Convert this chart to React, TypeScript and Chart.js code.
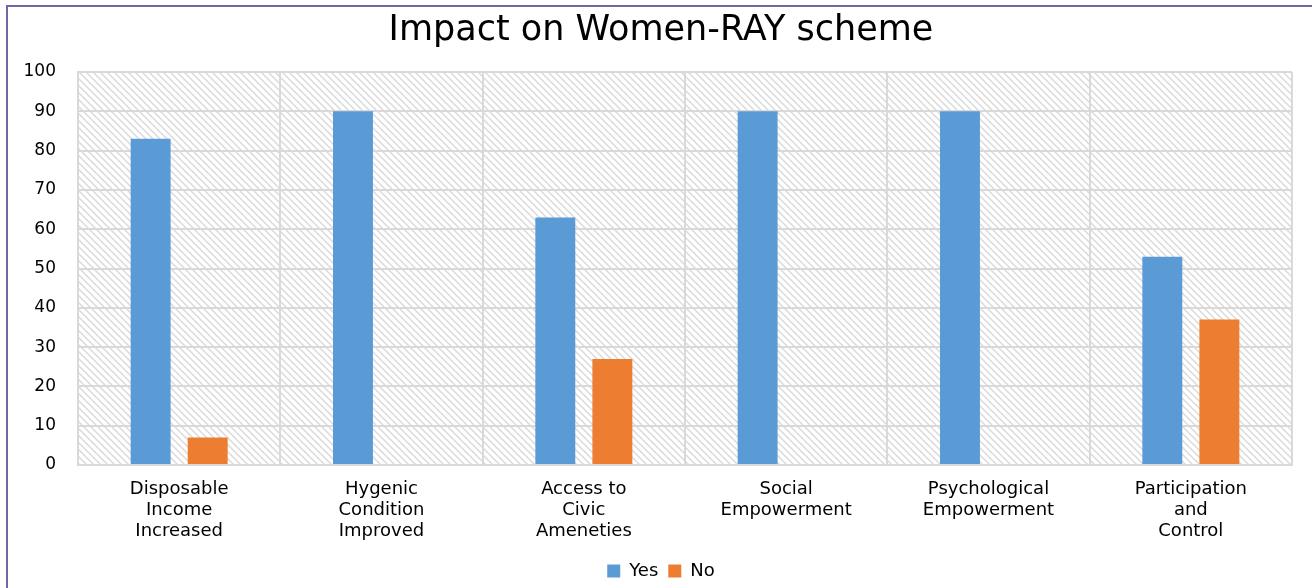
import React, { useEffect, useRef } from "react";
import { Chart, registerables } from "chart.js";

Chart.register(...registerables);

const categories: string[][] = [
  ["Disposable", "Income", "Increased"],
  ["Hygenic", "Condition", "Improved"],
  ["Access to", "Civic", "Ameneties"],
  ["Social", "Empowerment"],
  ["Psychological", "Empowerment"],
  ["Participation", "and", "Control"],
];
const yesValues = [83, 90, 63, 90, 90, 53];
const noValues = [7, 0, 27, 0, 0, 37];
const seriesNames = ["Yes", "No"];
const chartTitle = "Impact on Women-RAY scheme";

const FONT = "'DejaVu Sans', 'Open Sans', sans-serif";

function makeHatch(): CanvasPattern | string {
  const s = 7;
  const c = document.createElement("canvas");
  c.width = s;
  c.height = s;
  const g = c.getContext("2d");
  if (!g) return "#fff";
  g.fillStyle = "#ffffff";
  g.fillRect(0, 0, s, s);
  g.strokeStyle = "#dadada";
  g.lineWidth = 1.5;
  g.beginPath();
  g.moveTo(0, 0);
  g.lineTo(s, s);
  g.moveTo(-1, s - 1);
  g.lineTo(1, s + 1);
  g.moveTo(s - 1, -1);
  g.lineTo(s + 1, 1);
  g.stroke();
  const p = g.createPattern(c, "repeat");
  return p || "#fff";
}

export default function App() {
  const ref = useRef<HTMLCanvasElement | null>(null);
  useEffect(() => {
    if (!ref.current) return;
    const hatch = makeHatch();
    const hatchPlugin = {
      id: "hatchBg",
      beforeDraw(chart: any) {
        const { ctx, chartArea } = chart;
        ctx.save();
        ctx.fillStyle = hatch;
        ctx.fillRect(chartArea.left, chartArea.top, chartArea.right - chartArea.left, chartArea.bottom - chartArea.top);
        ctx.restore();
      },
    };
    const chart = new Chart(ref.current, {
      type: "bar",
      data: {
        labels: categories,
        datasets: [
          {
            label: seriesNames[0],
            data: yesValues,
            backgroundColor: "#5b9bd5",
            categoryPercentage: 0.564,
            barPercentage: 0.7,
          },
          {
            label: seriesNames[1],
            data: noValues,
            backgroundColor: "#ed7d31",
            categoryPercentage: 0.564,
            barPercentage: 0.7,
          },
        ],
      },
      options: {
        responsive: false,
        animation: false,
        layout: { padding: { left: 10, right: 0, top: 0, bottom: 0 } },
        plugins: {
          tooltip: { enabled: false },
          title: {
            display: true,
            text: chartTitle,
            color: "#000",
            font: { family: FONT, size: 35, weight: "normal", lineHeight: 1.2 },
            padding: { top: 10, bottom: 20 },
          },
          legend: {
            position: "bottom",
            labels: {
              color: "#000",
              font: { family: FONT, size: 18 },
              boxWidth: 13,
              boxHeight: 13,
              padding: 10,
            },
          },
        },
        scales: {
          x: {
            grid: { offset: true, color: "#d9d9d9", lineWidth: 2, drawTicks: false },
            border: { display: true, color: "#d9d9d9", width: 2 },
            ticks: {
              color: "#000",
              font: { family: FONT, size: 18, lineHeight: 1.17 },
              padding: 14,
              maxRotation: 0,
              autoSkip: false,
            },
            afterFit(scale: any) {
              scale.height = 87;
            },
          },
          y: {
            min: 0,
            max: 100,
            ticks: {
              stepSize: 10,
              color: "#000",
              font: { family: FONT, size: 17 },
              padding: 22,
            },
            grid: { color: "#d9d9d9", lineWidth: 2, drawTicks: false },
            border: { display: true, color: "#d9d9d9", width: 2 },
            afterFit(scale: any) {
              scale.width = 68;
            },
          },
          yRight: {
            position: "right",
            display: true,
            grid: { display: false, drawTicks: false },
            border: { display: false },
            ticks: { display: false },
            afterFit(scale: any) {
              scale.width = 20;
            },
          },
        },
      },
      plugins: [hatchPlugin],
    } as any);
    return () => chart.destroy();
  }, []);

  return (
    <div style={{ position: "fixed", left: 0, top: 0, width: 1312, height: 588, background: "#fff", overflow: "hidden" }}>
      <div
        style={{
          position: "absolute",
          left: 6,
          top: 5,
          width: 1400,
          height: 700,
          border: "2px solid #7464a8",
        }}
      />
      <canvas ref={ref} width={1312} height={590} style={{ position: "absolute", left: 0, top: 0 }} />
    </div>
  );
}
